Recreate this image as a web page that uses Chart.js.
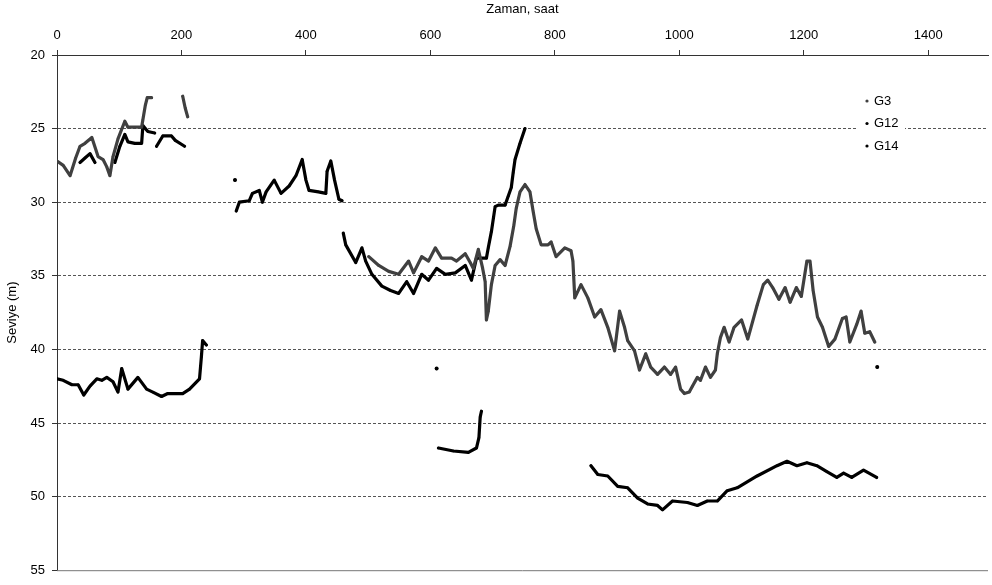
<!DOCTYPE html>
<html>
<head>
<meta charset="utf-8">
<script src="https://cdn.jsdelivr.net/npm/chart.js@4/dist/chart.umd.min.js"></script>
<style>
  html, body { margin: 0; padding: 0; background: #fff; }
  #wrap { width: 992px; height: 585px; }
</style>
</head>
<body>
<div id="wrap"><canvas id="myChart" width="992" height="585"></canvas></div>
<script>
// hours (x) and water level (y); null breaks a run
const g3Hours = [0, 10, 21, 30, 37, 45, 56, 66, 74, 80, 85, 90, 98, 109, 114, 125, 136, 138, 142, 145, 152, null,
  202, 206, 210, null,
  501, 517, 533, 549, 565, 573, 586, 597, 608, 618, 634, 642, 656, 664, 669, 677, 684, 688, 690, 693, 698, 704, 712, 720,
  728, 734, 738, 744, 752, 760, 765, 770, 778, 789, 794, 802, 816, 826, 829, 832, 842, 853, 864, 874, 885, 896, 904, 912,
  917, 928, 936, 946, 954, 965, 976, 986, 994, 1002, 1008, 1016, 1021, 1029, 1034, 1042, 1050, 1058, 1061, 1066, 1072,
  1080, 1088, 1100, 1110, 1125, 1135, 1142, 1150, 1160, 1170, 1178, 1188, 1196, 1205, 1210, 1215, 1222, 1230, 1240,
  1250, 1262, 1268, 1274, 1285, 1292, 1298, 1306, 1314];
const g3Level = [27.2, 27.5, 28.2, 27.0, 26.2, 26.0, 25.6, 26.9, 27.1, 27.6, 28.2, 26.9, 25.7, 24.5, 24.9, 24.9, 24.9, 24.4, 23.4, 22.9, 22.9, null,
  22.8, 23.6, 24.2, null,
  33.7, 34.3, 34.7, 34.9, 34.0, 34.8, 33.7, 34.0, 33.1, 33.8, 33.8, 34.0, 33.5, 34.1, 34.5, 33.2, 34.5, 35.4, 38.0, 37.4, 35.6, 34.3, 33.9, 34.3,
  33.0, 31.6, 30.4, 29.3, 28.8, 29.3, 30.6, 31.8, 32.9, 32.9, 32.7, 33.7, 33.1, 33.3, 34.0, 36.5, 35.6, 36.5, 37.8, 37.3, 38.5, 40.1, 37.4, 38.5,
  39.4, 40.1, 41.4, 40.3, 41.2, 41.7, 41.2, 41.7, 41.2, 42.7, 43.0, 42.9, 42.5, 41.9, 42.1, 41.2, 41.9, 41.4, 40.3, 39.2, 38.5,
  39.5, 38.5, 38.0, 39.3, 37.0, 35.6, 35.3, 35.8, 36.6, 35.8, 36.8, 35.8, 36.4, 34.0, 34.0, 36.0, 37.8, 38.5, 39.8,
  39.3, 37.9, 37.8, 39.5, 38.3, 37.4, 38.9, 38.8, 39.5];

const g12Hours = [37, 45, 53, 61, null, 93, 101, 109, 114, 125, 136, 138, 146, 157, null,
  160, 170, 184, 190, 205, null, 286, null,
  288, 293, 309, 314, 325, 330, 336, 349, 360, 373, 384, 394, 400, 405, 420, 432, 434, 440, 446, 453, 458, null,
  460, 464, 480, 490, 496, 506, 522, 536, 549, 562, 573, 586, 597, 610, 624, 640, 656, 666, 674, 690, 693, 698, 704,
  709, 720, 725, 730, 733, 736, 744, 752, null, 1318];
const g12Level = [27.3, 27.0, 26.7, 27.3, null, 27.3, 26.2, 25.4, 25.9, 26.0, 26.0, 24.8, 25.2, 25.3, null,
  26.2, 25.5, 25.5, 25.8, 26.2, null, 28.5, null,
  30.6, 30.0, 29.9, 29.4, 29.2, 30.0, 29.3, 28.5, 29.4, 28.9, 28.2, 27.1, 28.5, 29.2, 29.3, 29.4, 27.9, 27.2, 28.5, 29.8, 29.9, null,
  32.1, 32.9, 34.1, 33.1, 34.0, 34.9, 35.7, 36.0, 36.2, 35.4, 36.2, 34.9, 35.3, 34.5, 34.9, 34.8, 34.3, 35.3, 33.8, 33.8, 33.1, 32.0, 30.3,
  30.2, 30.2, 29.6, 29.0, 28.0, 27.1, 26.0, 25.0, null, 41.2];

const g14Hours = [0, 10, 24, 34, 43, 53, 64, 72, 80, 90, 98, 104, 114, 130, 144, 154, 168, 178, 202, 213, 229, 232, 234, 240, null,
  610, null,
  613, 637, 661, 674, 678, 680, 682, null,
  858, 869, 885, 901, 917, 933, 949, 965, 973, 989, 1013, 1029, 1045, 1061, 1077, 1093, 1125, 1157, 1173, 1189, 1205,
  1221, 1237, 1253, 1264, 1277, 1296, 1317];
const g14Level = [42.0, 42.1, 42.4, 42.4, 43.1, 42.5, 42.0, 42.1, 41.9, 42.2, 42.9, 41.3, 42.7, 41.9, 42.7, 42.9, 43.2, 43.0, 43.0, 42.7, 42.0, 40.5, 39.4, 39.7, null,
  41.3, null,
  46.7, 46.9, 47.0, 46.7, 46.0, 44.6, 44.2, null,
  47.9, 48.5, 48.6, 49.3, 49.4, 50.1, 50.5, 50.6, 50.9, 50.3, 50.4, 50.6, 50.3, 50.3, 49.6, 49.4, 48.6, 47.9, 47.6, 47.9, 47.7,
  47.9, 48.3, 48.7, 48.4, 48.7, 48.2, 48.7];

const seriesNames = ['G3', 'G12', 'G14'];
const xTicks = [0, 200, 400, 600, 800, 1000, 1200, 1400];

const toPoints = (hours, level) => hours.map((h, i) => ({ x: h, y: level[i] }));

const font = { family: 'Liberation Sans, Arial, sans-serif', size: 13 };

// lone points get a dot, runs get a line
const lonePoint = ctx => {
  const d = ctx.dataset.data;
  const i = ctx.dataIndex;
  const prev = d[i - 1], next = d[i + 1];
  const empty = p => !p || p.y === null;
  return empty(prev) && empty(next) ? 2 : 1.2;
};

const legendBox = {
  id: 'legendBox',
  afterDatasetsDraw(chart) {
    const ctx = chart.ctx;
    ctx.save();
    ctx.fillStyle = '#fff';
    ctx.fillRect(857, 90, 48, 66);
    ctx.font = '13px Liberation Sans, Arial, sans-serif';
    ctx.textBaseline = 'middle';
    chart.data.datasets.forEach((ds, i) => {
      const y = 101 + i * 22.5;
      ctx.fillStyle = ds.borderColor;
      ctx.beginPath();
      ctx.arc(867, y, 1.6, 0, Math.PI * 2);
      ctx.fill();
      ctx.fillStyle = '#000';
      ctx.fillText(ds.label, 874, y);
    });
    ctx.restore();
  }
};

const bottomLine = {
  id: 'bottomLine',
  afterDraw(chart) {
    const { ctx, chartArea } = chart;
    ctx.save();
    ctx.strokeStyle = '#777';
    ctx.lineWidth = 1;
    ctx.beginPath();
    ctx.moveTo(chartArea.left, chartArea.bottom + 0.5);
    ctx.lineTo(chartArea.right, chartArea.bottom + 0.5);
    ctx.stroke();
    ctx.restore();
  }
};

const ctx = document.getElementById('myChart');
new Chart(ctx, {
  type: 'scatter',
  data: {
    datasets: [
      { label: seriesNames[0], data: toPoints(g3Hours, g3Level), borderColor: '#404040', backgroundColor: '#404040' },
      { label: seriesNames[1], data: toPoints(g12Hours, g12Level), borderColor: '#000', backgroundColor: '#000' },
      { label: seriesNames[2], data: toPoints(g14Hours, g14Level), borderColor: '#000', backgroundColor: '#000' }
    ].map(ds => Object.assign(ds, {
      showLine: true,
      spanGaps: false,
      borderWidth: 3.2,
      borderJoinStyle: 'round',
      borderCapStyle: 'round',
      pointRadius: lonePoint,
      pointBorderWidth: 0,
      tension: 0
    }))
  },
  options: {
    responsive: false,
    animation: false,
    layout: { padding: { left: 0, right: 0, top: 0, bottom: 10 } },
    plugins: { legend: { display: false }, tooltip: { enabled: false } },
    scales: {
      x: {
        type: 'linear',
        position: 'top',
        min: 0,
        max: 1496,
        afterBuildTicks: s => { s.ticks = xTicks.map(v => ({ value: v })); },
        afterFit: s => { s.height = 55; },
        ticks: { color: '#000', font, padding: 7, maxRotation: 0, callback: v => String(v) },
        grid: { drawOnChartArea: false, tickLength: 5, tickColor: '#333' },
        border: { color: '#333', width: 1 },
        title: { display: true, text: 'Zaman, saat', color: '#000', font, padding: { top: 2, bottom: 0 } }
      },
      y: {
        reverse: true,
        min: 20,
        max: 55,
        afterFit: s => { s.width = 57; },
        ticks: { stepSize: 5, color: '#000', font, padding: 7 },
        grid: {
          color: c => (c.tick && (c.tick.value === 20 || c.tick.value === 55)) ? 'rgba(0,0,0,0)' : '#555',
          tickLength: 5,
          tickColor: '#333',
          lineWidth: 1
        },
        border: { color: '#333', width: 1, dash: [3, 2] },
        title: { display: true, text: 'Seviye (m)', color: '#000', font, padding: { top: 5, bottom: 0 } }
      }
    }
  },
  plugins: [legendBox, bottomLine]
});
</script>
</body>
</html>
